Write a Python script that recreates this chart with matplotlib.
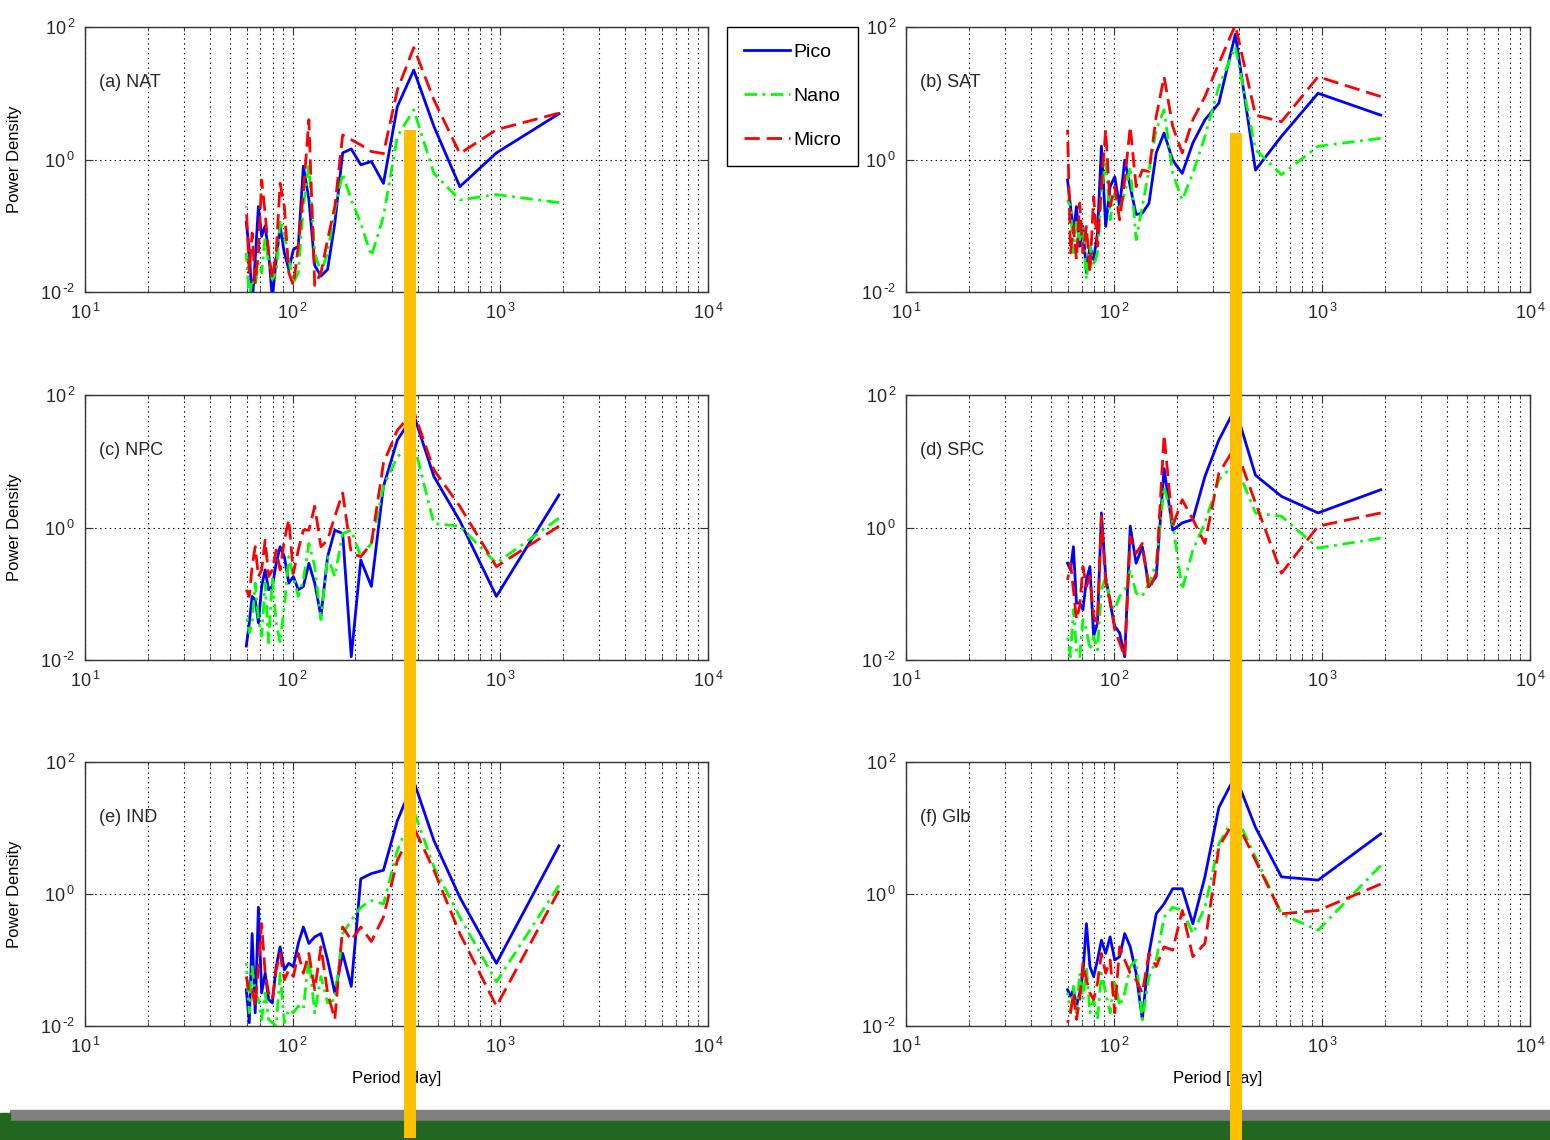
import numpy as np
import matplotlib.pyplot as plt
from matplotlib import ticker, transforms
from matplotlib.lines import Line2D
from matplotlib.patches import Rectangle

plt.rcParams['font.family'] = ['Liberation Sans', 'DejaVu Sans']
plt.rcParams['lines.scale_dashes'] = False

# periods [day] of the spectral estimates
periods = [1915, 957.5, 638.3, 478.8, 383.0, 319.2, 273.6, 239.4, 212.8, 191.5,
           174.1, 159.6, 147.3, 136.8, 127.7, 119.7, 112.6, 106.4, 100.8, 95.8,
           91.2, 87.0, 83.3, 79.8, 76.6, 73.7, 70.9, 68.4, 66.0, 63.8, 61.8, 59.8]

# log10(power density), same order as periods
nat_pico = [0.69, 0.10, -0.41, 0.50, 1.35, 0.80, -0.36, -0.03, -0.08, 0.16, 0.10, -0.96,
            -1.66, -1.76, -1.60, -0.60, -0.10, -1.31, -1.36, -1.66, -1.41, -1.01, -1.51, -2.10,
            -1.41, -1.00, -1.16, -0.71, -1.51, -2.20, -1.36, -0.95]
nat_nano = [-0.65, -0.53, -0.61, -0.21, 0.75, 0.35, -0.86, -1.46, -0.96, -0.61, -0.21, -0.76,
            -1.41, -1.71, -1.41, -0.06, -0.71, -1.71, -1.86, -1.51, -1.11, -0.91, -1.71, -1.81,
            -1.56, -1.16, -1.71, -1.56, -1.91, -1.81, -2.10, -1.41]
nat_micro = [0.70, 0.45, 0.09, 0.90, 1.69, 1.05, 0.09, 0.12, 0.22, 0.30, 0.37, -0.71,
             -1.21, -1.71, -1.90, 0.60, -0.50, -1.31, -1.90, -1.71, -0.71, -0.36, -1.41, -1.80,
             -1.41, -0.81, -0.31, -1.41, -1.86, -1.11, -1.71, -0.71]

sat_pico = [0.67, 1.00, 0.35, -0.16, 1.89, 0.85, 0.60, 0.25, -0.21, -0.01, 0.40, 0.10,
            -0.66, -0.81, -0.83, -0.41, -0.01, -0.71, -0.26, -0.41, -1.01, 0.20, -1.11, -1.51,
            -1.31, -1.71, -1.01, -1.31, -0.71, -1.11, -0.71, -0.31]
sat_nano = [0.32, 0.20, -0.23, 0.15, 1.70, 1.10, 0.35, -0.21, -0.61, -0.21, 0.75, 0.45,
            -0.16, -0.71, -1.21, -0.11, -0.51, -0.76, -0.51, -0.91, -0.01, -0.51, -1.41, -1.61,
            -1.31, -1.81, -1.01, -1.21, -0.91, -1.41, -0.71, -0.61]
sat_micro = [0.95, 1.25, 0.57, 0.67, 2.03, 1.45, 0.95, 0.60, 0.10, 0.50, 1.25, 0.65,
             -0.18, -0.16, -0.41, 0.50, -0.31, -0.91, -0.41, -0.71, 0.45, -0.41, -1.31, -0.56,
             -1.71, -1.01, -1.41, -0.66, -1.51, -1.01, -1.41, 0.45]

npc_pico = [0.49, -1.04, 0.10, 0.77, 1.70, 1.32, 0.62, -0.89, -0.49, -1.95, -0.09, -0.04,
            -0.44, -1.34, -0.84, -0.54, -0.89, -0.94, -0.74, -0.84, -0.44, -0.29, -0.54, -0.89,
            -0.94, -0.64, -0.89, -1.44, -1.09, -1.04, -1.44, -1.79]
npc_nano = [0.14, -0.54, 0.02, 0.06, 1.27, 1.07, 0.62, -0.24, -0.44, -0.04, -0.09, -0.74,
            -0.44, -1.39, -0.59, -0.24, -0.79, -1.04, -0.74, -0.44, -1.19, -1.74, -1.44, -0.74,
            -1.74, -0.84, -1.64, -1.39, -0.84, -1.44, -1.59, -1.29]
npc_micro = [0.02, -0.59, 0.32, 0.87, 1.75, 1.47, 0.97, -0.24, -0.44, -0.39, 0.52, 0.17,
             -0.19, -0.29, 0.32, -0.04, -0.04, -0.34, -0.69, 0.12, -0.19, -0.64, -0.34, -0.64,
             -0.74, -0.19, -0.64, -0.74, -0.29, -0.59, -1.04, -0.94]

spc_pico = [0.57, 0.22, 0.47, 0.79, 1.80, 1.32, 0.77, 0.12, 0.07, -0.04, 0.89, -0.74,
            -0.89, -0.29, -0.54, 0.02, -1.95, -1.59, -1.49, -1.14, -0.74, 0.22, -1.44, -1.64,
            -0.59, -0.79, -1.24, -1.14, -1.14, -0.29, -0.64, -0.54]
spc_nano = [-0.16, -0.31, 0.17, 0.22, 0.97, 0.72, 0.07, -0.34, -0.94, 0.07, 0.62, -0.54,
            -0.84, -1.04, -0.99, -0.64, -0.94, -1.04, -1.24, -1.14, -0.74, -0.94, -1.85, -1.64,
            -1.85, -1.54, -1.39, -1.95, -1.85, -1.24, -1.95, -1.64]
spc_micro = [0.22, 0.02, -0.69, 0.37, 1.22, 0.82, -0.24, 0.12, 0.42, 0.02, 1.40, -0.69,
             -0.94, -0.24, -0.39, -0.14, -1.95, -1.74, -1.54, -1.09, -0.84, 0.17, -1.44, -1.34,
             -0.74, -0.89, -0.59, -1.19, -1.39, -0.94, -0.54, -0.79]

ind_pico = [0.73, -1.05, -0.05, 0.81, 1.71, 1.11, 0.36, 0.31, 0.23, -1.40, -0.90, -1.50,
            -1.00, -0.60, -0.65, -0.75, -0.50, -0.75, -1.10, -1.05, -1.15, -0.80, -1.10, -1.65,
            -1.60, -1.20, -1.50, -0.20, -1.80, -0.60, -1.95, -1.45]
ind_nano = [0.13, -1.33, -0.35, 0.41, 1.26, 0.66, -0.15, -0.10, -0.20, -0.40, -0.60, -1.60,
            -1.65, -1.25, -1.80, -0.95, -1.75, -1.70, -1.80, -1.75, -1.95, -1.20, -2.00, -1.95,
            -1.90, -1.50, -1.90, -1.60, -1.50, -1.10, -1.80, -1.05]
ind_micro = [0.05, -1.70, -0.60, 0.36, 1.01, 0.51, -0.35, -0.72, -0.50, -0.70, -0.50, -1.90,
             -1.50, -0.80, -1.45, -0.90, -1.20, -0.90, -1.25, -1.15, -1.30, -0.90, -1.15, -1.60,
             -1.50, -1.20, -0.45, -1.10, -1.70, -1.45, -1.50, -1.25]

glb_pico = [0.91, 0.21, 0.26, 1.01, 1.79, 1.31, 0.26, -0.45, 0.08, 0.08, -0.15, -0.30,
            -0.90, -1.90, -1.20, -0.80, -0.60, -0.95, -1.00, -0.65, -0.90, -0.70, -1.00, -1.25,
            -1.10, -0.45, -1.20, -1.50, -1.70, -1.45, -1.55, -1.45]
glb_nano = [0.43, -0.55, -0.30, 0.56, 1.21, 0.76, -0.20, -0.60, -0.25, -0.20, -0.35, -1.00,
            -1.25, -1.90, -1.00, -1.10, -1.50, -1.70, -1.30, -1.80, -1.50, -1.20, -1.90, -1.60,
            -1.80, -1.10, -1.60, -1.20, -1.80, -1.40, -1.80, -1.50]
glb_micro = [0.15, -0.25, -0.30, 0.51, 1.14, 0.71, -0.75, -0.95, -0.25, -0.85, -0.80, -1.10,
             -0.90, -1.50, -1.30, -1.20, -1.00, -0.80, -1.80, -1.00, -1.20, -0.90, -1.35, -1.60,
             -1.50, -1.30, -1.05, -1.60, -1.90, -1.50, -1.80, -1.95]

panel_labels = ['(a) NAT', '(b) SAT', '(c) NPC', '(d) SPC', '(e) IND', '(f) Glb']
panel_data = [(nat_pico, nat_nano, nat_micro), (sat_pico, sat_nano, sat_micro),
              (npc_pico, npc_nano, npc_micro), (spc_pico, spc_nano, spc_micro),
              (ind_pico, ind_nano, ind_micro), (glb_pico, glb_nano, glb_micro)]
series_names = ['Pico', 'Nano', 'Micro']

# annual period marks (orange bars), one per column
bar_periods = [367, 384]

W, H = 1550, 1140
fig = plt.figure(figsize=(W / 100, H / 100), dpi=100)

# axes boxes in pixels: left, top, right, bottom
col_px = [(85, 708), (906, 1530)]
row_px = [(27, 292), (395, 660), (762, 1026)]


def pow10(v, pos):
    # matlab-like label: "10" with a small raised exponent, short hyphen for minus
    e = round(np.log10(v))
    if e < 0:
        return r'$\mathdefault{10^{\,\text{-}%d}}$' % (-e)
    return r'$\mathdefault{10^{\,%d}}$' % e


axes = []
for i, (lab, (pico, nano, micro)) in enumerate(zip(panel_labels, panel_data)):
    r, c = divmod(i, 2)
    x0, x1 = col_px[c]
    y0, y1 = row_px[r]
    ax = fig.add_axes([x0 / W, 1 - y1 / H, (x1 - x0) / W, (y1 - y0) / H])
    axes.append(ax)

    ax.plot(periods, 10 ** np.array(pico), color='b', lw=2, label=series_names[0])
    ax.plot(periods, 10 ** np.array(nano), color=(0, 1, 0), lw=2,
            dashes=(9, 4, 2, 4), label=series_names[1])
    ax.plot(periods, 10 ** np.array(micro), color='r', lw=2,
            dashes=(11, 5), label=series_names[2])

    ax.set_xscale('log')
    ax.set_yscale('log')
    ax.set_xlim(10, 1e4)
    ax.set_ylim(1e-2, 1e2)
    ax.yaxis.set_major_locator(ticker.FixedLocator([1e-2, 1, 1e2]))
    ax.yaxis.set_minor_locator(ticker.NullLocator())
    ax.xaxis.set_major_formatter(ticker.FuncFormatter(pow10))
    ax.yaxis.set_major_formatter(ticker.FuncFormatter(pow10))

    dot = (0, (1, 2.5))
    ax.grid(True, which='major', axis='both', ls=dot, color='k', lw=0.8)
    ax.grid(True, which='minor', axis='x', ls=dot, color='k', lw=0.8)
    ax.tick_params(which='both', direction='in', top=True, right=True,
                   labelsize=13, color='0.2', labelcolor='0.15')
    ax.tick_params(which='major', length=6)
    ax.tick_params(which='minor', length=3)
    ax.tick_params(axis='x', pad=8)
    ax.tick_params(axis='y', pad=7)
    for s in ax.spines.values():
        s.set_color('0.2')
        s.set_linewidth(1)

    ax.text(0.022, 0.79, lab, transform=ax.transAxes, fontsize=13,
            va='center', ha='left', color='0.15')

    if c == 0:
        ax.set_ylabel('Power Density', fontsize=12)
        ax.yaxis.set_label_coords(-0.101, 0.5)
    if r == 2:
        ax.set_xlabel('Period [day]', fontsize=12)
        ax.xaxis.set_label_coords(0.5, -0.17)

# legend box between the two top panels
handles, labels = axes[0].get_legend_handles_labels()
leg = fig.legend(handles, labels, loc='upper left',
                 bbox_to_anchor=(727 / W, 1 - 27 / H), borderaxespad=0,
                 fontsize=14, handlelength=2.4, handletextpad=0.15,
                 labelspacing=1.36, borderpad=0.85, fancybox=False,
                 edgecolor='k', framealpha=1)
leg.get_frame().set_linewidth(1)

# orange vertical bars across the rows
bar_y = [(1 - 130 / H, 1 - 1138 / H), (1 - 133 / H, 0.0)]
for c, (per, (ya, yb)) in enumerate(zip(bar_periods, bar_y)):
    tr = transforms.blended_transform_factory(axes[c].transData, fig.transFigure)
    fig.add_artist(Line2D([per, per], [ya, yb], transform=tr, color='#FFC000',
                          lw=8.6, solid_capstyle='butt', zorder=10))

# slide footer strips
fig.add_artist(Rectangle((10 / W, 1 - 1121 / H), 1, 11 / H, transform=fig.transFigure,
                         color='#808080', zorder=5))
fig.add_artist(Rectangle((0, 0), 1, 1 - 1121 / H, transform=fig.transFigure,
                         color='#236620', zorder=5))
fig.add_artist(Rectangle((0, 0), 10 / W, 1 - 1113 / H, transform=fig.transFigure,
                         color='#236620', zorder=5))

fig.savefig('out.png', dpi=100)
